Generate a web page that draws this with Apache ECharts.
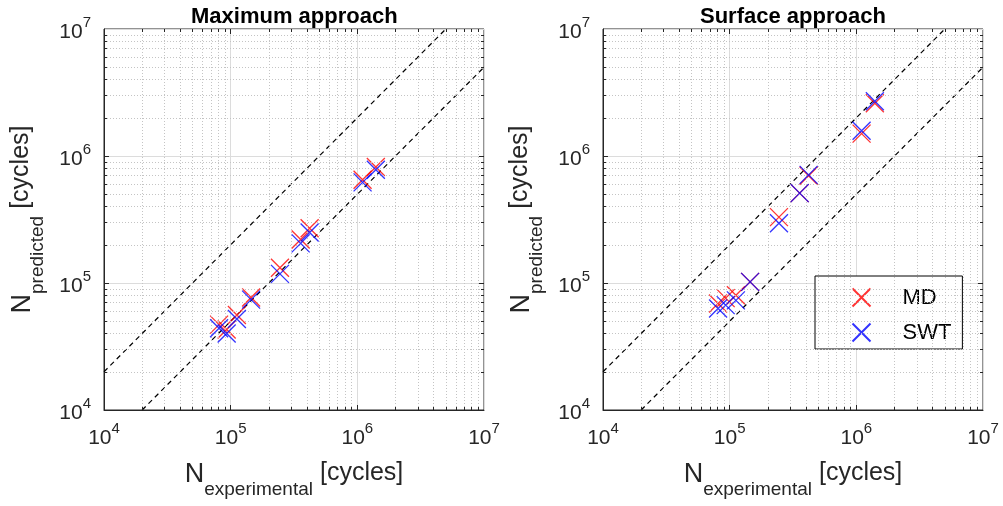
<!DOCTYPE html>
<html><head><meta charset="utf-8">
<script src="https://cdn.jsdelivr.net/npm/echarts@6/dist/echarts.min.js"></script>
<style>html,body{margin:0;padding:0;background:#fff}#c{width:1003px;height:506px}</style>
</head><body><div id="c"></div>
<script>
// ---- data ----
const experimental = [8.1e4, 9.3e4, 1.12e5, 1.45e5, 2.45e5, 3.57e5, 4.2e5, 1.1e6, 1.4e6];
const maxMD   = [4.7e4, 4.3e4, 5.6e4, 7.7e4, 1.32e5, 2.2e5, 2.7e5, 6.5e5, 8.2e5];
const maxSWT  = [4.4e4, 4.0e4, 5.2e4, 7.4e4, 1.18e5, 2.05e5, 2.5e5, 6.2e5, 7.8e5];
const surfMD  = [6.9e4, 7.6e4, 8.0e4, 1.02e5, 3.3e5, 5.1e5, 7.0e5, 1.5e6, 2.6e6];
const surfSWT = [6.3e4, 6.7e4, 7.3e4, 1.02e5, 2.95e5, 5.1e5, 7.1e5, 1.58e6, 2.7e6];
const titles = ['Maximum approach', 'Surface approach'];
const seriesNames = ['MD', 'SWT'];
const decades = [1e4, 1e5, 1e6, 1e7];
const factorLines = [[[1e4, 2e4], [5e6, 1e7]], [[2e4, 1e4], [1e7, 5e6]]];

// ---- layout/styles ----
const AX = '#262626';
const grids = [{left: 104, top: 29, width: 380, height: 381}, {left: 603, top: 29, width: 380, height: 381}];
const titleLeft = [186, 695];
const xMark = 'path://M0,0L10,10M10,0L0,10';
const lo = decades[0], hi = decades[decades.length - 1];
const minors = [];
for (let i = 0; i < decades.length - 1; i++) for (let m = 2; m <= 9; m++) minors.push(m * decades[i]);
const majorsIn = decades.slice(1, -1);
const fm = Math.pow(10, 3 / 127), fM = Math.pow(10, 5 / 127);

function tickSegs() {
  const d = [];
  const add = (vals, f) => vals.forEach(v => {
    d.push([{coord: [v, lo]}, {coord: [v, lo * f]}]);
    d.push([{coord: [v, hi]}, {coord: [v, hi / f]}]);
    d.push([{coord: [lo, v]}, {coord: [lo * f, v]}]);
    d.push([{coord: [hi, v]}, {coord: [hi / f, v]}]);
  });
  add(minors, fm); add(majorsIn, fM);
  return d;
}
const FF = 'Liberation Sans';
const labelFmt = v => '{b|10}{s|' + Math.round(Math.log10(v)) + '}';
const labelRich = {
  b: {fontSize: 21, lineHeight: 28, verticalAlign: 'bottom', color: AX, fontFamily: FF},
  s: {fontSize: 15, lineHeight: 14, verticalAlign: 'top', color: AX, fontFamily: FF}
};
const nameRich = {
  n: {fontSize: 27, lineHeight: 30, verticalAlign: 'top', color: AX, fontFamily: FF},
  sub: {fontSize: 19, lineHeight: 38, verticalAlign: 'bottom', color: AX, fontFamily: FF},
  c: {fontSize: 25, lineHeight: 30, verticalAlign: 'top', color: AX, fontFamily: FF}
};

const xAxis = [], yAxis = [], series = [], title = [];
const panelData = [[maxMD, maxSWT], [surfMD, surfSWT]];
const colors = ['#ff0000', '#0000ff'];
grids.forEach((g, gi) => {
  const common = {
    type: 'log', logBase: 10, min: lo, max: hi, gridIndex: gi,
    axisLine: {show: true, lineStyle: {color: AX, width: 1}},
    axisTick: {show: false},
    splitLine: {show: true, lineStyle: {color: '#dcdcdc', width: 1}}
  };
  xAxis.push(Object.assign({}, common, {
    axisLabel: {formatter: labelFmt, rich: labelRich, margin: 11},
    name: '{n|N}{sub|experimental}{c| [cycles]}', nameLocation: 'middle', nameGap: 51,
    nameTextStyle: {rich: nameRich}
  }));
  yAxis.push(Object.assign({}, common, {
    axisLabel: {formatter: labelFmt, rich: labelRich, margin: 13},
    name: '{n|N}{sub|predicted}{c| [cycles]}', nameLocation: 'middle', nameGap: 57,
    nameTextStyle: {rich: nameRich}
  }));
  title.push({text: titles[gi], left: titleLeft[gi], top: 1,
    textStyle: {fontSize: 22, fontWeight: 'bold', color: '#000', fontFamily: FF}});
  // minor grid
  series.push({type: 'line', xAxisIndex: gi, yAxisIndex: gi, data: [], silent: true, z: 1,
    markLine: {silent: true, symbol: ['none', 'none'], label: {show: false}, animation: false,
      lineStyle: {color: '#c4c4c4', width: 1, type: [1, 2]},
      data: minors.map(v => ({xAxis: v})).concat(minors.map(v => ({yAxis: v})))}});
  // ticks
  series.push({type: 'line', xAxisIndex: gi, yAxisIndex: gi, data: [], silent: true, z: 2,
    markLine: {silent: true, symbol: ['none', 'none'], label: {show: false}, animation: false,
      lineStyle: {color: AX, width: 1, type: 'solid'}, data: tickSegs()}});
  // factor-of-two lines
  factorLines.forEach(fl => series.push({type: 'line', xAxisIndex: gi, yAxisIndex: gi, data: fl,
    symbol: 'none', silent: true, z: 3, lineStyle: {color: '#000', width: 1.2, type: [5, 4]}}));
  panelData[gi].forEach((arr, si) => series.push({
    type: 'scatter', name: seriesNames[si], xAxisIndex: gi, yAxisIndex: gi, z: 4 + si,
    symbol: xMark, symbolSize: 18,
    itemStyle: {color: 'none', borderColor: colors[si], borderWidth: 1.3},
    data: experimental.map((x, i) => [x, arr[i]])
  }));
});

const chart = echarts.init(document.getElementById('c'), null, {renderer: 'canvas'});
chart.setOption({
  animation: false,
  backgroundColor: '#fff',
  title: title,
  grid: grids.map(g => Object.assign({show: true, borderColor: AX, borderWidth: 1, backgroundColor: 'transparent'}, g)),
  xAxis: xAxis, yAxis: yAxis,
  legend: {
    data: seriesNames, left: 815, top: 276, orient: 'vertical',
    backgroundColor: '#fff', borderColor: '#000', borderWidth: 1,
    padding: [10, 11, 5, 35], itemGap: 12, itemWidth: 72, itemHeight: 18,
    textStyle: {fontSize: 22, color: '#000', fontFamily: FF},
    selectedMode: false
  },
  series: series
});
</script></body></html>
